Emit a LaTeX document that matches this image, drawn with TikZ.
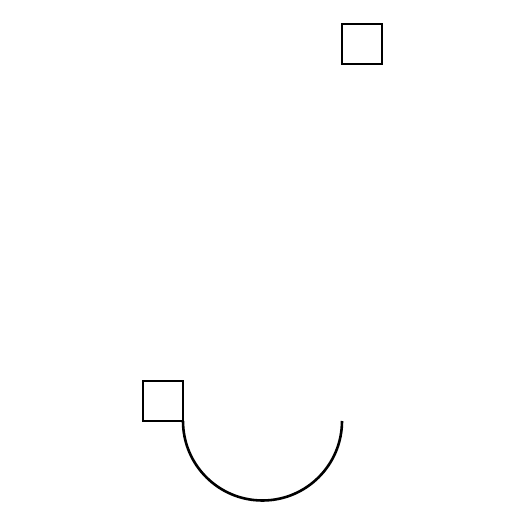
\documentclass[tikz,border=0pt]{standalone}
\begin{document}
\begin{tikzpicture}[x=1pt,y=1pt,
  sq/.style={draw=black,line width=2.6pt,minimum size=40pt,inner sep=0pt,outer sep=0pt},
  curve/.style={draw=black,line width=2.6pt}]
\useasboundingbox (0,0) rectangle (525,525);
\node[sq] (top) at (362,481) {};
\node[sq] (bot) at (163,124) {};
\draw[curve] (bot.south east) arc[start angle=180,end angle=360,radius=79.5];
\end{tikzpicture}
\end{document}
